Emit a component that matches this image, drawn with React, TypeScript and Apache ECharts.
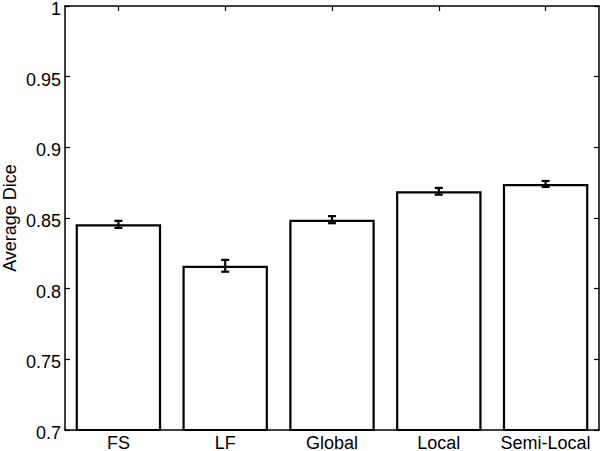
import React, { useEffect, useRef } from "react";
import * as echarts from "echarts";

const categories = ["FS", "LF", "Global", "Local", "Semi-Local"];
const means = [0.8455, 0.8162, 0.8488, 0.8689, 0.8741];
const errors = [0.0025, 0.0042, 0.0025, 0.0024, 0.0021];
const yTicks = [0.7, 0.75, 0.8, 0.85, 0.9, 0.95, 1];

const FONT = "Liberation Sans, Arial, Helvetica, sans-serif";

export default function App() {
  const ref = useRef<HTMLDivElement>(null);
  useEffect(() => {
    if (!ref.current) return;
    const chart = echarts.init(ref.current, undefined, { renderer: "svg" });
    const errData = means.map((m, i) => [i, m - errors[i], m + errors[i]]);
    const axisLine = { show: true, lineStyle: { color: "#000", width: 1.5 } };
    const tick = { show: true, inside: true, length: 5, lineStyle: { color: "#000", width: 1.2 } };
    chart.setOption({
      animation: false,
      backgroundColor: "#fff",
      grid: { left: 65, right: 2, top: 6, bottom: 21, show: false, containLabel: false, outerBoundsMode: "none" },
      xAxis: [
        {
          type: "category",
          data: categories,
          position: "bottom",
          boundaryGap: true,
          axisLine,
          axisTick: { ...tick, alignWithLabel: true },
          axisLabel: {
            color: "#000",
            fontSize: 18,
            lineHeight: 15,
            fontFamily: FONT,
            margin: 5,
            interval: 0,
            hideOverlap: false,
          },
          splitLine: { show: false },
        },
        {
          type: "category",
          data: categories,
          position: "top",
          boundaryGap: true,
          axisLine,
          axisTick: { ...tick, alignWithLabel: true },
          axisLabel: { show: false },
          splitLine: { show: false },
        },
      ],
      yAxis: [
        {
          type: "value",
          min: yTicks[0],
          max: yTicks[yTicks.length - 1],
          interval: 0.05,
          position: "left",
          name: "Average Dice",
          nameLocation: "middle",
          nameGap: 48.5,
          nameMoveOverlap: false,
          nameTextStyle: { color: "#000", fontSize: 18, lineHeight: 14, fontFamily: FONT },
          axisLine,
          axisTick: tick,
          axisLabel: {
            color: "#000",
            margin: 4,
            formatter: (v: number) => "{a|" + String(+v.toFixed(2)) + "}",
            rich: {
              a: {
                color: "#000",
                fontSize: 18,
                lineHeight: 12,
                fontFamily: FONT,
                padding: [6, 0, 0, 0],
              },
            },
          },
          splitLine: { show: false },
        },
        {
          type: "value",
          min: yTicks[0],
          max: yTicks[yTicks.length - 1],
          interval: 0.05,
          position: "right",
          axisLine,
          axisTick: tick,
          axisLabel: { show: false },
          splitLine: { show: false },
        },
      ],
      series: [
        {
          type: "bar",
          data: means,
          barWidth: "80%",
          clip: true,
          itemStyle: { color: "#fff", borderColor: "#000", borderWidth: 2.2 },
          emphasis: { disabled: true },
          z: 2,
        },
        {
          type: "custom",
          data: errData,
          clip: true,
          z: 3,
          renderItem: (params: any, api: any) => {
            const x = api.value(0);
            const lo = api.coord([x, api.value(1)]);
            const hi = api.coord([x, api.value(2)]);
            const hw = 4;
            const style = { stroke: "#000", lineWidth: 2.2, fill: "none" };
            return {
              type: "group",
              children: [
                { type: "line", shape: { x1: lo[0], y1: lo[1], x2: hi[0], y2: hi[1] }, style },
                { type: "line", shape: { x1: lo[0] - hw, y1: lo[1], x2: lo[0] + hw, y2: lo[1] }, style },
                { type: "line", shape: { x1: hi[0] - hw, y1: hi[1], x2: hi[0] + hw, y2: hi[1] }, style },
              ],
            };
          },
        },
      ],
    });
    return () => chart.dispose();
  }, []);
  return (
    <div
      ref={ref}
      style={{ position: "fixed", left: 0, top: 0, width: 601, height: 451, background: "#fff" }}
    />
  );
}
